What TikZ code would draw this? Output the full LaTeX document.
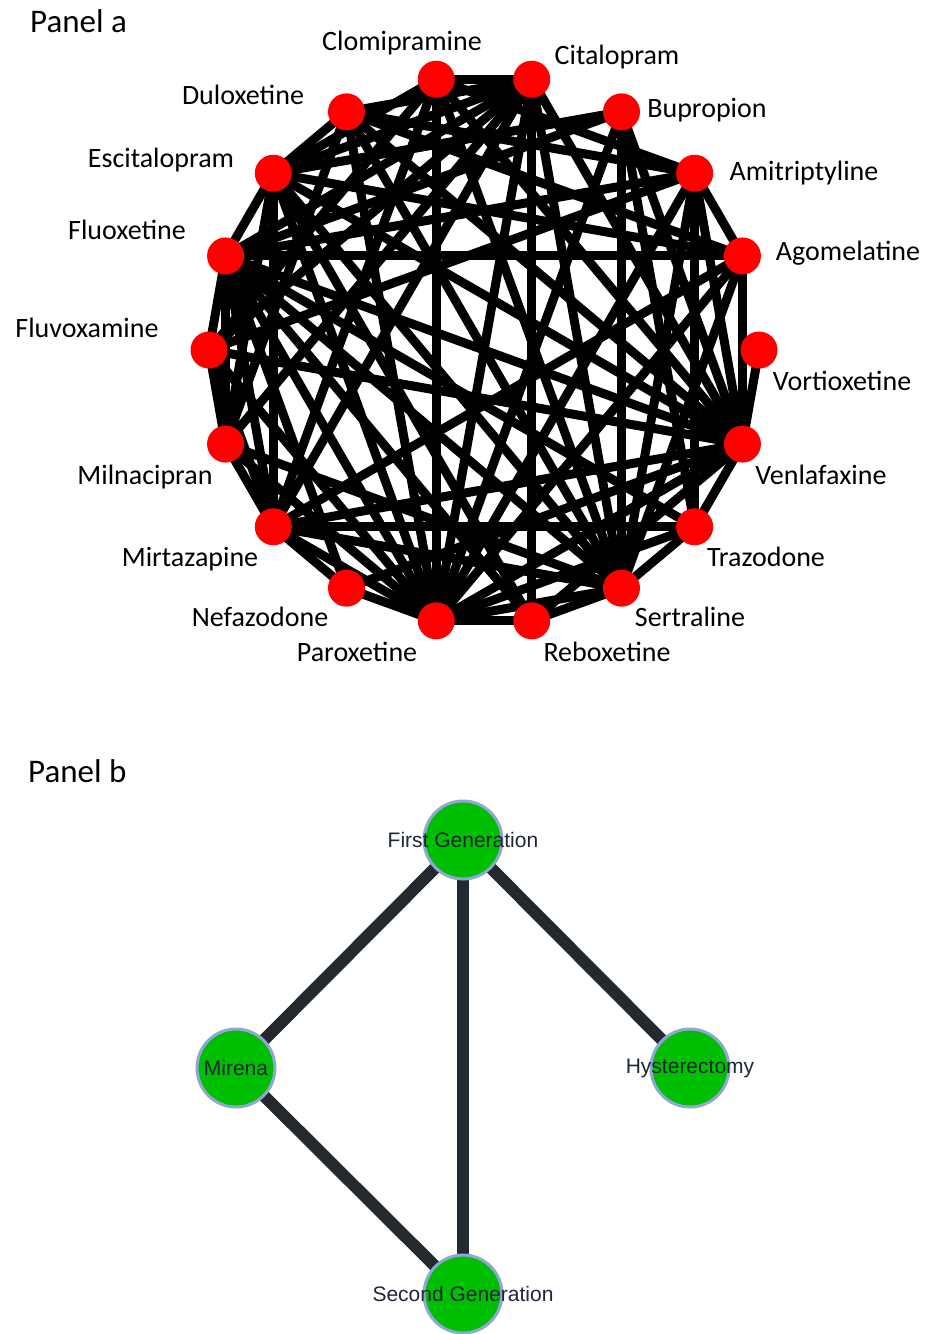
\documentclass[tikz,border=0pt]{standalone}
\usepackage{fontspec}
\setmainfont{Carlito}
\newfontfamily\arialf{Liberation Sans}
\pgfdeclarelayer{edges}
\pgfdeclarelayer{bgl}
\pgfsetlayers{bgl,edges,main}
\definecolor{gnode}{HTML}{00BE00}
\definecolor{gborder}{HTML}{8FA6D6}
\definecolor{gedge}{HTML}{24282F}
\definecolor{gtext}{HTML}{1E2638}
\tikzset{
 dot/.style={circle,fill=red,minimum size=37pt,inner sep=0pt},
 lbl/.style={anchor=base,font=\fontsize{28}{30}\selectfont,inner sep=0pt},
 ttl/.style={anchor=base west,font=\fontsize{33}{35}\selectfont,inner sep=0pt},
 aedge/.style={line width=9pt,black},
 gn/.style={circle,fill=gnode,draw=gborder,line width=3pt,minimum size=78pt,inner sep=0pt},
 glbl/.style={font=\arialf\fontsize{21}{23}\selectfont,text=gtext,inner sep=0pt},
 bedge/.style={line width=12pt,gedge}
}
\begin{document}
\begin{tikzpicture}[x=1pt,y=-1pt]
\begin{pgfonlayer}{bgl}
\fill[white] (0,0) rectangle (938,1334);
\end{pgfonlayer}
\useasboundingbox (0,0) rectangle (938,1334);
% Panel a nodes
\foreach \i in {0,...,17}{
  \pgfmathsetmacro{\ang}{100-20*\i}
  \node[dot] (n\i) at ({484+275*cos(\ang)},{350-275*sin(\ang)}) {};
}
\node[ttl] (ta) at (30,32) {Panel a};
\node[lbl] (l0) at (402,50) {Clomipramine};
\node[lbl] (l1) at (617,64) {Citalopram};
\node[lbl] (l2) at (707,117) {Bupropion};
\node[lbl] (l3) at (804,180) {Amitriptyline};
\node[lbl] (l4) at (848,260) {Agomelatine};
\node[lbl] (l5) at (842,390) {Vortioxetine};
\node[lbl] (l6) at (821,484) {Venlafaxine};
\node[lbl] (l7) at (766,566) {Trazodone};
\node[lbl] (l8) at (690,626) {Sertraline};
\node[lbl] (l9) at (607,661) {Reboxetine};
\node[lbl] (l10) at (357,661) {Paroxetine};
\node[lbl] (l11) at (260,626) {Nefazodone};
\node[lbl] (l12) at (190,566) {Mirtazapine};
\node[lbl] (l13) at (145,484) {Milnacipran};
\node[lbl] (l14) at (87,337) {Fluvoxamine};
\node[lbl] (l15) at (127,239) {Fluoxetine};
\node[lbl] (l16) at (161,167) {Escitalopram};
\node[lbl] (l17) at (243,104) {Duloxetine};
\begin{pgfonlayer}{edges}
\foreach \a/\b in {0/1,0/10,0/16,0/14,0/8,0/6,0/3,0/12,
  1/9,1/15,1/16,1/17,1/6,1/10,1/8,1/12,1/14,1/13,
  2/15,2/10,2/8,2/6,2/7,2/16,
  3/4,3/6,3/7,3/15,3/17,3/10,3/8,3/14,
  4/6,4/15,4/16,4/10,4/8,4/17,4/12,
  5/6,
  6/7,6/15,6/14,6/12,6/11,6/10,6/9,6/17,6/16,
  7/8,7/12,7/15,7/10,
  8/9,8/15,8/13,8/12,8/17,8/16,8/10,
  9/10,9/15,9/16,
  10/11,10/15,10/14,10/13,10/12,10/17,10/16,
  11/12,11/15,
  12/13,12/15,12/14,12/16,
  13/14,13/15,13/16,13/17,
  14/15,15/16,16/17}
  \draw[aedge] (n\a.center) -- (n\b.center);
\end{pgfonlayer}
% Panel b
\node[ttl] (tb) at (28,782) {Panel b};
\node[gn] (fg) at (463,840) {};
\node[gn] (mi) at (236,1068) {};
\node[gn] (hy) at (690,1068) {};
\node[gn] (sg) at (463,1294) {};
\node[glbl] at (fg.center) {First Generation};
\node[glbl] at (mi.center) {Mirena};
\node[glbl] at (hy.center) {Hysterectomy};
\node[glbl] at (sg.center) {Second Generation};
\begin{pgfonlayer}{edges}
\draw[bedge] (fg.center) -- (mi.center);
\draw[bedge] (fg.center) -- (sg.center);
\draw[bedge] (fg.center) -- (hy.center);
\draw[bedge] (mi.center) -- (sg.center);
\end{pgfonlayer}
\end{tikzpicture}
\end{document}
